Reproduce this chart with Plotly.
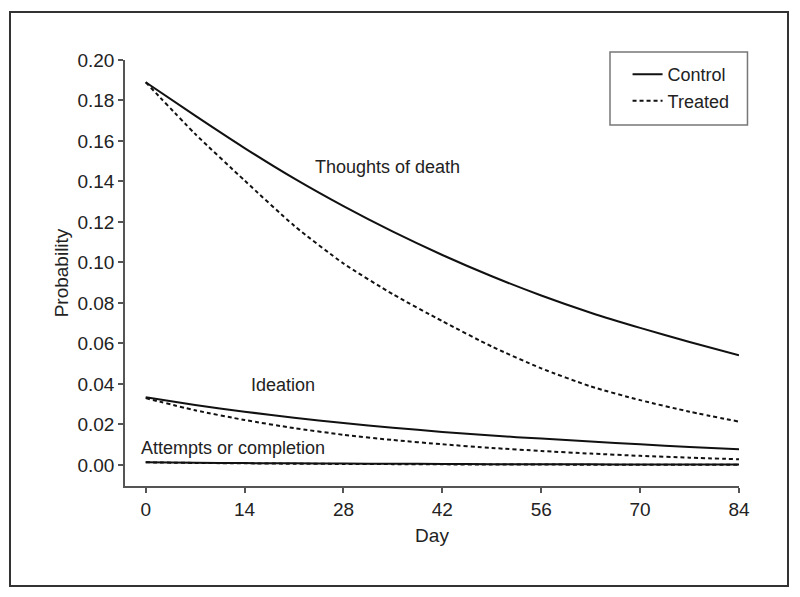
import plotly.graph_objects as go

days = [0, 7, 14, 21, 28, 35, 42, 49, 56, 63, 70, 77, 84]

thoughts_control = [0.189, 0.1725, 0.1565, 0.1415, 0.1278, 0.1152, 0.1037, 0.0932, 0.0837, 0.0752, 0.0677, 0.0607, 0.0542]
thoughts_treated = [0.189, 0.1635, 0.1405, 0.1182, 0.0995, 0.0843, 0.0710, 0.0585, 0.0477, 0.0388, 0.0320, 0.0263, 0.0214]
ideation_control = [0.0334, 0.0296, 0.0263, 0.0233, 0.0207, 0.0184, 0.0163, 0.0145, 0.0130, 0.0116, 0.0102, 0.0089, 0.0078]
ideation_treated = [0.0330, 0.0270, 0.0222, 0.0182, 0.0149, 0.0123, 0.0102, 0.0084, 0.0069, 0.0056, 0.0045, 0.0036, 0.0028]
attempts_control = [0.0013, 0.0011, 0.0009, 0.0008, 0.0007, 0.0006, 0.0005, 0.0004, 0.0003, 0.0003, 0.0002, 0.0002, 0.0002]
attempts_treated = [0.0013, 0.0010, 0.0008, 0.0006, 0.0005, 0.0004, 0.0003, 0.0002, 0.0002, 0.0001, 0.0001, 0.0001, 0.0001]

x_ticks = [0, 14, 28, 42, 56, 70, 84]
y_ticks = [0.00, 0.02, 0.04, 0.06, 0.08, 0.10, 0.12, 0.14, 0.16, 0.18, 0.20]

FONT = "Liberation Sans, Arial, sans-serif"
INK = "#111111"
AX = "#555555"
DOT = "4px,3px"

fig = go.Figure()

series = [
    (thoughts_control, "Control", "solid", True),
    (thoughts_treated, "Treated", DOT, True),
    (ideation_control, "Control", "solid", False),
    (ideation_treated, "Treated", DOT, False),
    (attempts_treated, "Treated", DOT, False),
    (attempts_control, "Control", "solid", False),
]
for vals, name, dash, show in series:
    fig.add_trace(go.Scatter(
        x=days, y=vals, mode="lines", name=name, showlegend=show,
        line=dict(color=INK, width=2, dash=dash, shape="spline", smoothing=0.6),
        hoverinfo="skip",
    ))

labels = [
    ("Thoughts of death", 34.3, 0.147),
    ("Ideation", 19.4, 0.0395),
    ("Attempts or completion", 12.3, 0.0084),
]
for text, lx, ly in labels:
    fig.add_annotation(x=lx, y=ly, xref="x", yref="y", text=text, showarrow=False,
                       font=dict(family=FONT, size=18, color="#222"))

# outer frame
fig.add_shape(type="rect", xref="paper", yref="paper",
              x0=-0.1873, x1=1.0798, y0=-0.2347, y1=1.1127,
              line=dict(color="#333", width=2), layer="above")
# legend box
fig.add_shape(type="rect", xref="paper", yref="paper",
              x0=0.7899, x1=1.0138, y0=0.8474, y1=1.0188,
              line=dict(color="#777", width=1.5))

fig.update_layout(
    width=800, height=597,
    margin=dict(l=117, r=69, t=52, b=119, pad=0),
    paper_bgcolor="white", plot_bgcolor="white",
    font=dict(family=FONT, size=18, color="#222"),
    showlegend=True,
    legend=dict(x=0.8185, y=1.009, xanchor="left", yanchor="top",
                bgcolor="rgba(0,0,0,0)", borderwidth=0,
                font=dict(family=FONT, size=18, color="#222"),
                itemwidth=30, tracegroupgap=0),
    xaxis=dict(range=[-2.93, 84], tickvals=x_ticks, ticktext=[str(v) for v in x_ticks],
               showline=True, linecolor=AX, linewidth=1.5, ticks="outside", ticklen=5,
               tickcolor=AX, tickwidth=1.5, showgrid=False, zeroline=False,
               title=dict(text="Day", font=dict(family=FONT, size=19), standoff=10),
               tickfont=dict(family=FONT, size=19)),
    yaxis=dict(range=[-0.0104, 0.20], tickvals=y_ticks, ticktext=[f"{v:.2f}" for v in y_ticks],
               showline=True, linecolor=AX, linewidth=1.5, ticks="outside", ticklen=5,
               tickcolor=AX, tickwidth=1.5, showgrid=False, zeroline=False,
               title=dict(text="Probability", font=dict(family=FONT, size=19), standoff=4),
               tickfont=dict(family=FONT, size=19)),
)

fig.write_html("out.html")
